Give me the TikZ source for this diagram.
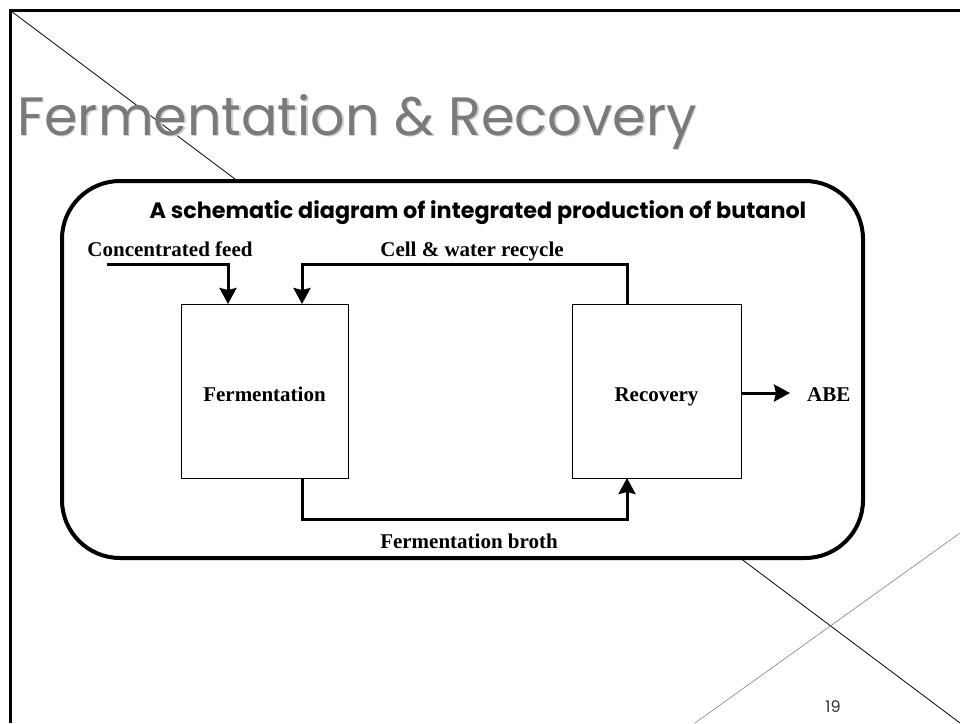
\documentclass[tikz,border=0pt]{standalone}
\usepackage{fontspec}
\setmainfont{Liberation Serif}
\newfontfamily\gothic{Poppins}
\usetikzlibrary{arrows.meta,calc}
\definecolor{titlegray}{RGB}{122,122,122}
\tikzset{
  unitbox/.style={draw=black, line width=1pt, fill=white, inner sep=0pt, text height=20pt, text depth=0pt, font=\fontsize{21}{24}\selectfont\bfseries},
  flow/.style={line width=3pt, -{Stealth[length=16pt,width=17pt,inset=2pt]}},
  lbl/.style={font=\fontsize{21}{24}\selectfont\bfseries, inner sep=0pt, anchor=base},
}
\begin{document}
\begin{tikzpicture}[x=1pt,y=-1pt]
\useasboundingbox (0,0) rectangle (960,723);
\begin{scope}
\clip (0,0) rectangle (960,723);
% slide frame
\draw[line width=3pt] (10,723) -- (10,10) -- (960,10);
% decorative lines
\draw[line width=0.8pt] (11,11) -- (960,723);
\draw[line width=0.6pt, gray] (695,723) -- (960,533);
\end{scope}
% title
\node[anchor=base west, inner sep=0pt, text=gray!35, font=\gothic\fontsize{54}{60}\selectfont] at (18.5,136.5) {Fermentation \& Recovery};
\node[anchor=base west, inner sep=0pt, text=titlegray, font=\gothic\fontsize{54}{60}\selectfont] (title) at (17,135) {Fermentation \& Recovery};
% rounded frame
\draw[line width=4pt, fill=white, rounded corners=58pt] (62,181) rectangle (863,558);
\node[anchor=base, inner sep=0pt, font=\gothic\bfseries\fontsize{22.3}{26}\selectfont] (sub) at (478,218) {A schematic diagram of integrated production of butanol};
% units
\node[unitbox, minimum width=167pt, minimum height=174pt] (ferm) at (264.5,391) {Fermentation};
\node[unitbox, minimum width=169pt, minimum height=174pt] (rec) at (656.5,391) {Recovery};
% labels
\node[lbl] (feedlbl) at (170,256) {Concentrated feed};
\node[lbl] (cyclbl) at (472,256) {Cell \& water recycle};
\node[lbl] (brothlbl) at (469,548) {Fermentation broth};
\node[lbl, anchor=base west] (abe) at (807,401) {ABE};
% connectors
\coordinate (feedstart) at (107,264);
\coordinate (feedin) at (228,304);
\coordinate (cycout) at (627,304);
\coordinate (cycin) at (302,304);
\coordinate (brothout) at (302,478);
\coordinate (brothin) at (627,478);
\coordinate (abetip) at (790,393);
\draw[flow] (feedstart) -| (feedin);
\draw[flow] (cycout) |- (472,264) -| (cycin);
\draw[flow] (brothout) |- (472,519) -| (brothin);
\draw[flow] (rec.east |- abetip) -- (abetip);
% page number
\node[anchor=base, inner sep=0pt, text=black!80, font=\gothic\fontsize{16}{18}\selectfont] (pg) at (833,712) {19};
\end{tikzpicture}
\end{document}
